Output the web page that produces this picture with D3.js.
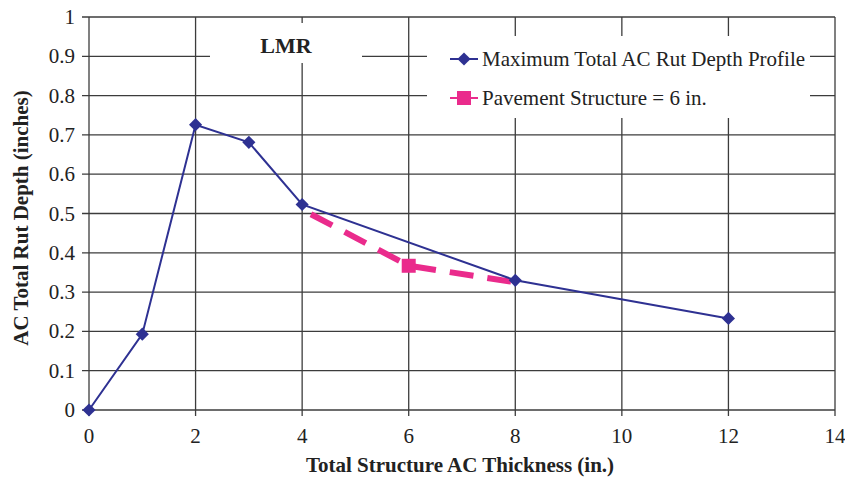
<!DOCTYPE html>
<html>
<head>
<meta charset="utf-8">
<script src="https://cdn.jsdelivr.net/npm/d3@7"></script>
<style>
  body { margin: 0; background: #fff; }
  text { font-family: "Liberation Serif", "Times New Roman", serif; fill: #222; }
</style>
</head>
<body>
<div id="chart"></div>
<script>
/* AC rut depth vs structure thickness (LMR) */

const profileX = [0, 1, 2, 3, 4, 8, 12],
      profileY = [0, 0.193, 0.726, 0.681, 0.523, 0.330, 0.233];

const paveX = [4, 6, 8],
      paveY = [0.51, 0.367, 0.325];

const xTicks = [0, 2, 4, 6, 8, 10, 12, 14],
      yTicks = [0, 0.1, 0.2, 0.3, 0.4, 0.5, 0.6, 0.7, 0.8, 0.9, 1];

const legendLabels = ["Maximum Total AC Rut Depth Profile", "Pavement Structure = 6 in."];

const width = 845,
      height = 481,
      margin = ({ top: 17, right: 10, bottom: 71, left: 89 });

const blue = "#2e3192",
      pink = "#ea2b8c",
      grid = "#3c3c3c";

let svg = d3.select("#chart")
    .append("svg")
    .attr("width", width)
    .attr("height", height);

let x = d3.scaleLinear()
    .domain([0, 14])
    .range([margin.left, 835]);

let y = d3.scaleLinear()
    .domain([0, 1])
    .range([410, margin.top]);

// gridlines
svg.append("g")
    .selectAll("line")
    .data(yTicks)
    .join("line")
    .attr("x1", x(0) - 7)
    .attr("x2", x(14))
    .attr("y1", d => y(d))
    .attr("y2", d => y(d))
    .attr("stroke", grid)
    .attr("stroke-width", 1.3);

svg.append("g")
    .selectAll("line")
    .data(xTicks)
    .join("line")
    .attr("x1", d => x(d))
    .attr("x2", d => x(d))
    .attr("y1", y(1))
    .attr("y2", y(0) + 6)
    .attr("stroke", grid)
    .attr("stroke-width", 1.3);

// tick labels
svg.append("g")
    .selectAll("text")
    .data(yTicks)
    .join("text")
    .attr("x", 75)
    .attr("y", d => y(d) + 7)
    .attr("text-anchor", "end")
    .style("font-size", "21px")
    .text(d => d);

svg.append("g")
    .selectAll("text")
    .data(xTicks)
    .join("text")
    .attr("x", d => x(d))
    .attr("y", 443)
    .attr("text-anchor", "middle")
    .style("font-size", "21px")
    .text(d => d);

// axis titles
svg.append("text")
    .attr("x", 460)
    .attr("y", 472)
    .attr("text-anchor", "middle")
    .style("font-size", "21px")
    .style("font-weight", "bold")
    .text("Total Structure AC Thickness (in.)");

svg.append("text")
    .attr("transform", "translate(28,218) rotate(-90)")
    .attr("text-anchor", "middle")
    .style("font-size", "21px")
    .style("font-weight", "bold")
    .text("AC Total Rut Depth (inches)");

// LMR label box
svg.append("rect")
    .attr("x", 210).attr("y", 23)
    .attr("width", 152).attr("height", 40)
    .attr("fill", "#fff");

svg.append("text")
    .attr("x", 286)
    .attr("y", 53)
    .attr("text-anchor", "middle")
    .style("font-size", "22px")
    .style("font-weight", "bold")
    .text("LMR");

// legend box
svg.append("rect")
    .attr("x", 427).attr("y", 36)
    .attr("width", 383).attr("height", 82)
    .attr("fill", "#fff");

// pavement structure series (dashed)
let pave = paveX.map((d, i) => ({ x: d, y: paveY[i] }));

svg.append("path")
    .datum(pave)
    .attr("fill", "none")
    .attr("stroke", pink)
    .attr("stroke-width", 6)
    .attr("stroke-dasharray", "24,14")
    .attr("stroke-dashoffset", -10)
    .attr("d", d3.line().x(d => x(d.x)).y(d => y(d.y)));

svg.selectAll(".pmark")
    .data(pave.filter((d, i) => i == 1))
    .join("rect")
    .attr("class", "pmark")
    .attr("x", d => x(d.x) - 7)
    .attr("y", d => y(d.y) - 7)
    .attr("width", 14)
    .attr("height", 14)
    .attr("fill", pink);

// profile series
let profile = profileX.map((d, i) => ({ x: d, y: profileY[i] }));

svg.append("path")
    .datum(profile)
    .attr("fill", "none")
    .attr("stroke", blue)
    .attr("stroke-width", 2)
    .attr("d", d3.line().x(d => x(d.x)).y(d => y(d.y)));

let diamond = d3.symbol().type(d3.symbolDiamond2).size(110);

svg.selectAll(".bmark")
    .data(profile)
    .join("path")
    .attr("class", "bmark")
    .attr("transform", d => `translate(${x(d.x)},${y(d.y)})`)
    .attr("d", diamond)
    .attr("fill", blue);

// legend entries
let leg = svg.append("g");

leg.append("line")
    .attr("x1", 450).attr("x2", 478)
    .attr("y1", 59).attr("y2", 59)
    .attr("stroke", blue).attr("stroke-width", 2);
leg.append("path")
    .attr("transform", "translate(464,59)")
    .attr("d", diamond)
    .attr("fill", blue);

leg.append("line")
    .attr("x1", 450).attr("x2", 478)
    .attr("y1", 98).attr("y2", 98)
    .attr("stroke", pink).attr("stroke-width", 2);
leg.append("rect")
    .attr("x", 457).attr("y", 91)
    .attr("width", 14).attr("height", 14)
    .attr("fill", pink);

leg.selectAll("text")
    .data(legendLabels)
    .join("text")
    .attr("x", 482)
    .attr("y", (d, i) => 66 + i * 39)
    .style("font-size", "21px")
    .text(d => d);
</script>
</body>
</html>
